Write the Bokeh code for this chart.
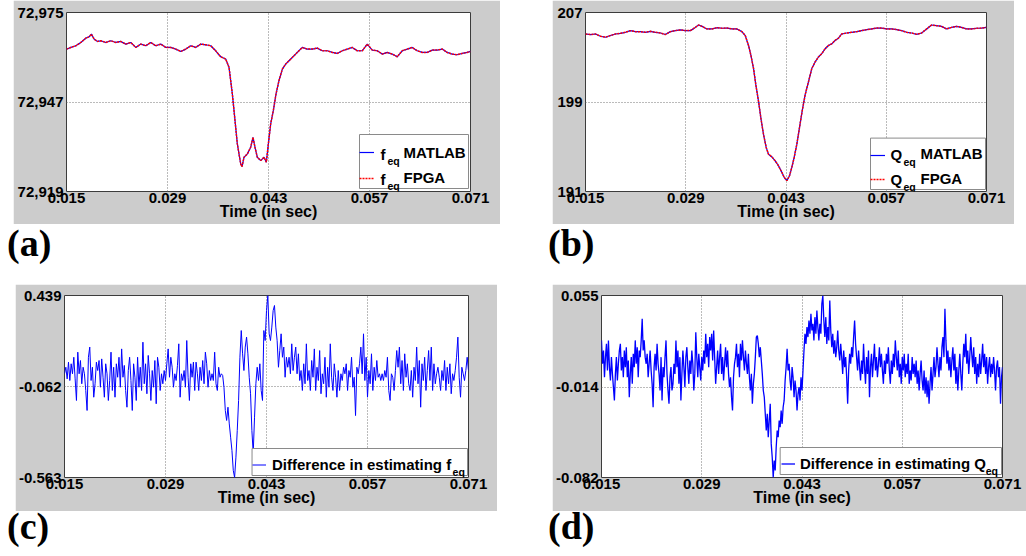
import numpy as np
from bokeh.plotting import figure
from bokeh.layouts import column, row
from bokeh.models import (Range1d, FixedTicker, NumeralTickFormatter, PrintfTickFormatter,
                          Legend, LegendItem, Label, Spacer, Div, BoxAnnotation)
from bokeh.core.properties import value
from bokeh.embed import file_html
from bokeh.resources import INLINE

# ---------------- data ----------------
x_ticks = [0.015, 0.029, 0.043, 0.057, 0.071]
x_label = "Time (in sec)"

# (a) f_eq
a_time = [0.01500, 0.01560, 0.01629, 0.01699, 0.01768, 0.01814, 0.01846, 0.01883, 0.01929, 0.01976,
          0.02045, 0.02114, 0.02183, 0.02253, 0.02322, 0.02391, 0.02460, 0.02530, 0.02599, 0.02668,
          0.02737, 0.02807, 0.02876, 0.02945, 0.03014, 0.03084, 0.03153, 0.03222, 0.03291, 0.03361,
          0.03430, 0.03499, 0.03568, 0.03638, 0.03707, 0.03753, 0.03776, 0.03799, 0.03822, 0.03845,
          0.03868, 0.03891, 0.03915, 0.03933, 0.03961, 0.04007, 0.04053, 0.04085, 0.04113, 0.04145,
          0.04192, 0.04238, 0.04270, 0.04298, 0.04330, 0.04367, 0.04404, 0.04445, 0.04492, 0.04538,
          0.04584, 0.04630, 0.04676, 0.04722, 0.04769, 0.04838, 0.04907, 0.04976, 0.05046, 0.05115,
          0.05184, 0.05253, 0.05323, 0.05392, 0.05461, 0.05530, 0.05600, 0.05669, 0.05738, 0.05807,
          0.05877, 0.05946, 0.06015, 0.06084, 0.06154, 0.06223, 0.06292, 0.06361, 0.06431, 0.06500,
          0.06569, 0.06638, 0.06708, 0.06777, 0.06846, 0.06915, 0.06985, 0.07054, 0.07100]
feq_matlab = [72963.55, 72964.07, 72964.59, 72965.63, 72966.98, 72967.40, 72968.23, 72966.67, 72965.94, 72966.15,
              72965.63, 72966.15, 72965.63, 72965.94, 72965.11, 72965.63, 72964.07, 72965.11, 72964.59, 72965.63,
              72964.59, 72965.11, 72964.07, 72964.07, 72963.55, 72962.82, 72963.55, 72964.59, 72964.07, 72965.11,
              72964.90, 72964.59, 72963.03, 72961.15, 72960.43, 72957.82, 72953.66, 72949.50, 72944.29, 72939.09,
              72933.88, 72930.76, 72927.63, 72926.80, 72929.72, 72930.76, 72932.84, 72935.96, 72932.84, 72929.72,
              72928.68, 72929.72, 72928.15, 72933.88, 72940.13, 72944.29, 72949.50, 72953.66, 72957.30, 72958.86,
              72959.91, 72960.95, 72961.99, 72963.03, 72964.07, 72963.55, 72963.55, 72963.86, 72963.03, 72963.03,
              72962.51, 72962.20, 72963.03, 72963.55, 72964.07, 72963.03, 72963.03, 72965.11, 72963.24, 72963.03,
              72961.99, 72962.51, 72961.99, 72961.15, 72963.03, 72963.55, 72964.07, 72963.03, 72962.51, 72962.51,
              72963.24, 72963.24, 72963.55, 72962.51, 72961.99, 72961.78, 72962.20, 72962.51, 72962.82]
feq_fpga = list(feq_matlab)  # visually identical to the MATLAB trace
a_yticks = [72919, 72947, 72975]

# (b) Q_eq
b_time = [0.01500, 0.01570, 0.01639, 0.01709, 0.01779, 0.01849, 0.01918, 0.01988, 0.02058, 0.02127,
          0.02197, 0.02267, 0.02337, 0.02406, 0.02476, 0.02546, 0.02615, 0.02685, 0.02755, 0.02825,
          0.02894, 0.02964, 0.03034, 0.03080, 0.03127, 0.03196, 0.03266, 0.03336, 0.03405, 0.03475,
          0.03545, 0.03615, 0.03684, 0.03731, 0.03777, 0.03810, 0.03847, 0.03879, 0.03917, 0.03949,
          0.03986, 0.04024, 0.04056, 0.04103, 0.04149, 0.04195, 0.04242, 0.04274, 0.04312, 0.04349,
          0.04381, 0.04414, 0.04451, 0.04488, 0.04525, 0.04567, 0.04614, 0.04660, 0.04707, 0.04753,
          0.04800, 0.04846, 0.04893, 0.04939, 0.04985, 0.05032, 0.05078, 0.05148, 0.05218, 0.05288,
          0.05357, 0.05427, 0.05497, 0.05566, 0.05636, 0.05706, 0.05776, 0.05845, 0.05915, 0.05985,
          0.06054, 0.06124, 0.06194, 0.06264, 0.06333, 0.06403, 0.06473, 0.06542, 0.06612, 0.06682,
          0.06751, 0.06821, 0.06891, 0.06961, 0.07030, 0.07100]
qeq_matlab = [205.08, 205.03, 205.08, 204.88, 204.79, 204.94, 205.08, 205.14, 205.23, 205.38,
              205.29, 205.29, 205.23, 205.32, 205.23, 205.17, 205.03, 205.29, 205.38, 205.44,
              205.38, 205.38, 205.67, 205.88, 205.76, 205.53, 205.53, 205.64, 205.59, 205.61,
              205.53, 205.53, 205.29, 204.94, 204.05, 203.17, 201.99, 200.52, 199.04, 197.57,
              196.10, 194.92, 194.33, 194.09, 193.74, 193.30, 192.71, 192.27, 191.97, 192.41,
              193.15, 194.04, 195.21, 196.69, 198.16, 199.63, 200.81, 201.99, 202.58, 203.02,
              203.32, 203.76, 204.05, 204.20, 204.50, 204.70, 205.08, 205.17, 205.23, 205.29,
              205.38, 205.47, 205.53, 205.61, 205.61, 205.53, 205.53, 205.47, 205.38, 205.23,
              205.17, 205.05, 205.17, 205.53, 205.88, 205.82, 205.76, 205.53, 205.67, 205.76,
              205.67, 205.53, 205.53, 205.59, 205.61, 205.67]
qeq_fpga = list(qeq_matlab)
b_yticks = [191, 199, 207]

# (c) difference in f_eq
diff_feq = [0.008, 0.044, -0.020, 0.072, -0.029, 0.063, 0.008, 0.099, -0.020, -0.139,
            0.127, 0.008, 0.081, -0.047, 0.044, 0.008, -0.084, -0.194, 0.099, 0.155,
            -0.029, 0.044, -0.121, -0.047, 0.072, 0.026, 0.081, -0.066, 0.090, -0.011,
            -0.121, 0.063, 0.008, -0.139, -0.029, 0.127, -0.084, 0.044, -0.121, 0.063,
            -0.011, 0.099, -0.066, 0.145, -0.011, 0.054, -0.084, -0.176, 0.026, 0.099,
            -0.029, -0.194, 0.063, -0.011, -0.139, 0.099, -0.066, 0.044, -0.084, 0.182,
            -0.047, 0.063, -0.102, 0.109, 0.008, -0.139, 0.026, -0.066, 0.081, -0.157,
            0.099, 0.044, -0.084, 0.008, -0.047, 0.026, -0.029, 0.063, 0.145, -0.011,
            0.099, 0.044, -0.066, 0.008, -0.029, 0.054, 0.173, -0.121, 0.008, -0.029,
            0.026, -0.066, 0.191, -0.011, -0.139, 0.063, -0.011, 0.072, -0.084, 0.072,
            0.008, -0.084, 0.044, -0.029, 0.081, -0.047, 0.127, 0.063, -0.066, 0.026,
            -0.029, 0.008, -0.029, 0.127, -0.047, -0.084, 0.044, -0.011, 0.008, -0.001,
            -0.066, -0.194, -0.249, -0.176, -0.268, -0.341, -0.414, -0.524, -0.563, -0.451,
            -0.304, -0.139, 0.099, 0.246, 0.118, 0.026, 0.155, 0.210, 0.118, -0.011,
            -0.102, -0.304, -0.429, -0.231, -0.047, 0.044, -0.029, 0.063, -0.084, -0.139,
            0.246, 0.191, 0.356, 0.439, 0.228, 0.191, 0.265, 0.356, 0.384, 0.265,
            0.191, 0.044, 0.136, 0.228, 0.099, 0.155, -0.011, 0.099, 0.044, 0.099,
            0.008, 0.173, 0.026, 0.099, 0.155, 0.008, 0.118, -0.029, 0.026, -0.084,
            0.063, -0.047, 0.173, -0.029, 0.026, -0.084, 0.081, -0.011, 0.145, -0.084,
            0.044, -0.029, 0.136, -0.102, 0.008, -0.047, 0.099, -0.121, 0.044, -0.066,
            0.173, -0.011, -0.084, 0.063, -0.011, -0.121, 0.026, -0.084, 0.008, -0.029,
            0.044, 0.008, 0.063, -0.084, 0.026, -0.011, 0.099, -0.066, -0.011, -0.222,
            0.044, 0.008, 0.063, 0.155, 0.008, 0.228, -0.029, 0.099, -0.121, 0.026,
            -0.047, 0.118, -0.084, 0.044, -0.029, 0.081, -0.011, 0.008, -0.029, 0.008,
            -0.029, 0.026, -0.011, 0.099, -0.084, -0.139, 0.008, -0.011, -0.084, 0.026,
            0.136, 0.044, 0.155, -0.047, 0.081, -0.084, 0.118, -0.011, 0.063, -0.047,
            -0.084, 0.026, -0.121, 0.044, -0.029, 0.155, -0.047, 0.081, -0.176, 0.063,
            -0.029, 0.099, -0.084, 0.026, 0.136, -0.029, 0.155, -0.084, 0.063, -0.047,
            0.008, 0.044, -0.011, -0.084, 0.026, -0.029, 0.081, -0.084, 0.044, -0.047,
            0.063, -0.102, 0.008, -0.029, 0.026, 0.099, 0.210, -0.011, -0.121, 0.044,
            0.008, -0.029, 0.026, 0.099, 0.026]
c_yticks = [-0.563, -0.062, 0.439]

# (d) difference in Q_eq
diff_qeq = [0.0212, 0.0036, 0.0136, -0.0065, 0.0086, 0.0186, -0.0014, 0.0212, 0.0011, -0.0090,
            0.0086, -0.0040, -0.0140, -0.0240, -0.0040, 0.0086, -0.0090, 0.0036, 0.0136, 0.0186,
            -0.0014, 0.0086, -0.0065, 0.0136, 0.0011, 0.0161, -0.0065, 0.0061, -0.0215, -0.0040,
            0.0086, -0.0115, 0.0111, 0.0011, 0.0212, 0.0036, 0.0161, -0.0065, 0.0136, 0.0086,
            0.0212, 0.0375, 0.0136, 0.0212, 0.0086, 0.0036, 0.0111, -0.0065, 0.0036, 0.0136,
            -0.0014, -0.0115, -0.0291, 0.0011, 0.0111, -0.0014, 0.0186, 0.0036, -0.0040, -0.0165,
            0.0086, -0.0240, 0.0011, -0.0065, 0.0086, 0.0212, -0.0040, -0.0165, -0.0265, -0.0065,
            0.0011, -0.0165, -0.0115, 0.0036, -0.0040, 0.0212, 0.0011, 0.0136, -0.0115, 0.0086,
            -0.0240, -0.0040, 0.0136, 0.0011, -0.0140, 0.0086, 0.0161, 0.0011, -0.0115, 0.0061,
            -0.0040, 0.0136, 0.0036, -0.0165, -0.0040, 0.0274, 0.0086, -0.0065, 0.0111, 0.0011,
            -0.0090, 0.0086, -0.0014, 0.0136, 0.0036, 0.0262, 0.0086, 0.0186, 0.0011, 0.0237,
            0.0136, 0.0262, 0.0061, 0.0287, 0.0086, -0.0115, 0.0011, 0.0136, -0.0040, 0.0086,
            0.0186, -0.0040, 0.0086, -0.0090, 0.0036, 0.0161, 0.0011, 0.0136, -0.0040, -0.0140,
            -0.0065, -0.0215, -0.0316, -0.0065, 0.0036, 0.0086, 0.0186, 0.0011, 0.0111, -0.0065,
            0.0186, 0.0061, 0.0212, 0.0086, -0.0014, 0.0136, 0.0036, -0.0040, 0.0111, -0.0065,
            -0.0165, -0.0040, -0.0265, -0.0115, -0.0040, 0.0086, 0.0237, 0.0249, 0.0186, 0.0086,
            0.0161, 0.0061, -0.0040, -0.0165, -0.0215, -0.0341, -0.0466, -0.0341, -0.0516, -0.0391,
            -0.0265, -0.0567, -0.0667, -0.0820, -0.0692, -0.0767, -0.0592, -0.0466, -0.0516, -0.0391,
            -0.0441, -0.0316, -0.0416, -0.0291, -0.0240, -0.0090, 0.0011, 0.0149, -0.0014, 0.0036,
            -0.0090, -0.0165, 0.0011, -0.0065, -0.0215, -0.0090, -0.0165, -0.0316, -0.0190,
            -0.0140, -0.0240, -0.0065, -0.0165, -0.0014, 0.0136, 0.0262, 0.0186, 0.0312, 0.0237,
            0.0362, 0.0262, 0.0412, 0.0287, 0.0337, 0.0212, 0.0387, 0.0262, 0.0437, 0.0312,
            0.0212, 0.0337, 0.0262, 0.0488, 0.0550, 0.0362, 0.0237, 0.0387, 0.0186, 0.0312,
            0.0212, 0.0513, 0.0287, 0.0161, 0.0262, 0.0111, 0.0212, 0.0086, 0.0161, 0.0287,
            0.0136, 0.0061, 0.0186, 0.0086, -0.0040, 0.0136, 0.0011, 0.0086, -0.0065, -0.0265,
            -0.0014, 0.0111, 0.0036, 0.0161, 0.0086, 0.0237, 0.0362, 0.0186, 0.0086, -0.0014,
            0.0136, 0.0011, -0.0090, 0.0061, -0.0040, 0.0186, 0.0011, -0.0115, 0.0086, -0.0040,
            0.0136, -0.0215, 0.0011, 0.0111, -0.0065, 0.0061, 0.0186, -0.0014, 0.0086, -0.0065,
            0.0036, 0.0161, 0.0011, 0.0111, -0.0014, -0.0115, 0.0061, -0.0040, 0.0111, 0.0036,
            0.0161, -0.0014, -0.0115, 0.0061, -0.0040, 0.0111, 0.0011, 0.0212, 0.0086, -0.0014,
            0.0136, -0.0065, 0.0036, -0.0115, 0.0086, -0.0014, 0.0111, -0.0065, 0.0036, -0.0040,
            0.0111, -0.0115, -0.0014, -0.0090, 0.0086, -0.0040, 0.0036, -0.0065, 0.0061, -0.0115,
            -0.0014, -0.0165, -0.0040, 0.0061, -0.0090, -0.0165, -0.0014, -0.0190, -0.0065, -0.0215,
            -0.0090, -0.0265, -0.0115, 0.0011, -0.0165, -0.0040, 0.0086, -0.0065, 0.0011, 0.0161,
            0.0036, -0.0065, 0.0086, -0.0014, 0.0161, 0.0237, 0.0086, 0.0450, 0.0212, 0.0036,
            0.0136, -0.0014, 0.0086, -0.0065, 0.0061, 0.0161, -0.0014, 0.0111, -0.0115, 0.0011,
            -0.0165, -0.0014, 0.0111, -0.0040, -0.0165, 0.0036, 0.0186, 0.0086, 0.0262, 0.0036,
            0.0136, -0.0040, 0.0086, 0.0237, 0.0111, 0.0011, 0.0161, -0.0040, 0.0086, -0.0115,
            0.0036, -0.0065, 0.0111, -0.0040, 0.0061, 0.0186, 0.0011, 0.0111, -0.0040, 0.0086,
            -0.0115, 0.0011, 0.0086, -0.0065, 0.0036, -0.0040, 0.0086, -0.0014, -0.0165, 0.0011,
            0.0061, -0.0065, 0.0011, -0.0265, -0.0065, 0.0011]
d_yticks = [-0.082, -0.014, 0.055]

c_time = np.linspace(0.015, 0.071, len(diff_feq))
d_time = np.linspace(0.015, 0.071, len(diff_qeq))

# ---------------- styling helpers ----------------
GRAY = "#cccccc"
FONT = "Liberation Sans"
BLUE = "#0000ff"
RED = "#ff0000"
XR = (0.015, 0.071)


def make_fig(w, h, yticks, yfmt, bl, br, bt, bb):
    p = figure(width=w, height=h, x_range=Range1d(*XR),
               y_range=Range1d(yticks[0], yticks[-1]),
               output_backend="svg", toolbar_location=None,
               min_border_left=bl, min_border_right=br, min_border_top=bt, min_border_bottom=bb)
    p.border_fill_color = GRAY
    p.background_fill_color = "white"
    p.outline_line_color = "#3c3c3c"
    p.outline_line_width = 1
    p.xaxis.ticker = FixedTicker(ticks=x_ticks)
    p.xaxis.formatter = PrintfTickFormatter(format="%.3f")
    p.yaxis.ticker = FixedTicker(ticks=yticks)
    p.yaxis.formatter = yfmt
    for ax in (p.xaxis[0], p.yaxis[0]):
        ax.axis_line_color = None
        ax.major_tick_in = 0
        ax.major_tick_out = 0
        ax.minor_tick_line_color = None
        ax.major_label_text_font = FONT
        ax.major_label_text_font_style = "bold"
        ax.major_label_text_font_size = "15px"
        ax.major_label_text_color = "black"
    p.xaxis.major_label_standoff = 1
    p.yaxis.major_label_standoff = 3
    p.xaxis.axis_label = x_label
    p.xaxis.axis_label_text_font = FONT
    p.xaxis.axis_label_text_font_style = "bold"
    p.xaxis.axis_label_text_font_size = "16px"
    p.xaxis.axis_label_text_color = "black"
    p.xaxis.axis_label_standoff = -3
    for g in (p.xgrid[0], p.ygrid[0]):
        g.grid_line_color = "#777777"
        g.grid_line_dash = "1 2"
        g.grid_line_width = 1
    return p


def to_data(fx, fy, frame, yr):
    fw, fh = frame
    return (XR[0] + fx / fw * (XR[1] - XR[0]), yr[0] + fy / fh * (yr[-1] - yr[0]))


def add_text(p, fx, fy, txt, size, frame, yr):
    x, y = to_data(fx, fy, frame, yr)
    p.add_layout(Label(x=x, y=y, x_units="data", y_units="data", text=txt,
                       text_font=FONT, text_font_style="bold", text_font_size=size,
                       text_color="black", text_align="left", text_baseline="alphabetic"))


def add_legend(p, renderers, loc, size, glyph_w, label_w, pad, row_h, spacing, frame, yr):
    # white legend box drawn underneath the legend texts
    x0, y0 = to_data(loc[0], loc[1], frame, yr)
    x1, y1 = to_data(loc[0] + size[0], loc[1] + size[1], frame, yr)
    p.add_layout(BoxAnnotation(left=x0, right=x1, bottom=y0, top=y1,
                               fill_color="white", fill_alpha=1.0,
                               line_color="#8a8a8a", line_width=1, line_alpha=1.0))
    # legend: only the line samples (texts are Labels, so that subscripts are possible)
    items = [LegendItem(label=value(" "), renderers=[r]) for r in renderers]
    lg = Legend(items=items, location=loc, padding=pad, spacing=spacing, margin=0,
                glyph_width=glyph_w, glyph_height=row_h, label_height=row_h,
                label_width=label_w, label_standoff=2,
                label_text_font_size="6px",
                border_line_color=None,
                background_fill_alpha=0.0)
    p.add_layout(lg)


# ---------------- (a) ----------------
A_FRAME = (404, 179)
pa = make_fig(487, 224, a_yticks, NumeralTickFormatter(format="0,0"), 53, 30, 12, 33)
ra1 = pa.line(a_time, feq_matlab, line_color=BLUE, line_width=1.2)
ra2 = pa.line(a_time, feq_fpga, line_color=RED, line_width=1.5, line_dash="2 1")
add_legend(pa, [ra1, ra2], (293, 3), (109, 54), 15, 84, 4, 20, 6, A_FRAME, a_yticks)
for (fx, fy, t, s) in [(314, 37, "f", "15px"), (321, 31, "eq", "10.5px"), (337, 39, "MATLAB", "15px"),
                       (314, 12, "f", "15px"), (321, 6, "eq", "10.5px"), (337, 14, "FPGA", "15px")]:
    add_text(pa, fx, fy, t, s, A_FRAME, a_yticks)

# ---------------- (b) ----------------
B_FRAME = (401, 181)
pb = make_fig(462, 224, b_yticks, PrintfTickFormatter(format="%d"), 33, 28, 10, 33)
rb1 = pb.line(b_time, qeq_matlab, line_color=BLUE, line_width=1.2)
rb2 = pb.line(b_time, qeq_fpga, line_color=RED, line_width=1.5, line_dash="2 1")
add_legend(pb, [rb1, rb2], (285, 2), (115, 52), 15, 90, 4, 20, 4, B_FRAME, b_yticks)
for (fx, fy, t, s) in [(305, 37, "Q", "15px"), (318, 30, "eq", "10.5px"), (335, 38, "MATLAB", "15px"),
                       (305, 12, "Q", "15px"), (318, 5, "eq", "10.5px"), (335, 13, "FPGA", "15px")]:
    add_text(pb, fx, fy, t, s, B_FRAME, b_yticks)

# ---------------- (c) ----------------
C_FRAME = (405, 182)
pc = make_fig(482, 227, c_yticks, PrintfTickFormatter(format="%.3f"), 48, 29, 11, 34)
rc = pc.line(c_time, diff_feq, line_color=BLUE, line_width=1)
add_legend(pc, [rc], (188, 2), (216, 27), 14, 194, 3, 21, 0, C_FRAME, c_yticks)
add_text(pc, 208, 13, "Difference in estimating f", "15px", C_FRAME, c_yticks)
add_text(pc, 389, 6, "eq", "10.5px", C_FRAME, c_yticks)

# ---------------- (d) ----------------
D_FRAME = (404, 182)
pd_ = make_fig(474, 227, d_yticks, PrintfTickFormatter(format="%.3f"), 46, 24, 11, 34)
rd = pd_.line(d_time, diff_qeq, line_color=BLUE, line_width=1.3)
add_legend(pd_, [rd], (180, 3), (223, 27), 14, 201, 3, 21, 0, D_FRAME, d_yticks)
add_text(pd_, 200, 14, "Difference in estimating Q", "15px", D_FRAME, d_yticks)
add_text(pd_, 387, 7, "eq", "10.5px", D_FRAME, d_yticks)


def panel_label(txt, w, h, lh, left):
    html = ("<div style=\"font-family:'Liberation Serif','Times New Roman',serif;font-weight:bold;"
            "font-size:38px;line-height:%dpx;padding-left:%dpx;color:black;white-space:nowrap;\">%s</div>"
            % (lh, left, txt))
    return Div(text=html, width=w, height=h, margin=0)


row1 = row(Spacer(width=13, height=224), pa, Spacer(width=52, height=224), pb)
lab1 = row(panel_label("(a)", 513, 60, 38, 7), panel_label("(b)", 513, 60, 38, 35))
row2 = row(Spacer(width=15, height=227), pc, Spacer(width=55, height=227), pd_)
lab2 = row(panel_label("(c)", 513, 45, 30, 7), panel_label("(d)", 513, 45, 30, 35))

layout = column(row1, lab1, row2, lab2)

open("out.html", "w").write(file_html(layout, INLINE))
